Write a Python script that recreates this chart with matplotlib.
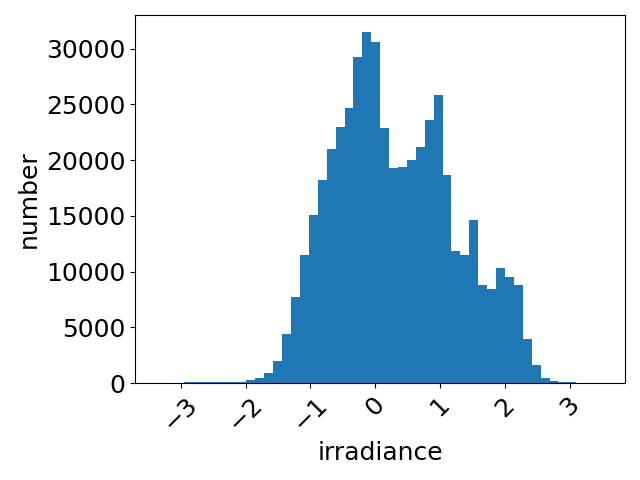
import numpy as np
import matplotlib
matplotlib.use('Agg')
import matplotlib.pyplot as plt

plt.rcParams['font.size'] = 18

# bin edges of the histogram (50 bins)
x_min = -3.361
x_max = 3.513
n_bins = 50

# counts per bin
counts = [0, 0, 0,
          90, 90, 90, 100, 100, 110, 130,
          240, 480, 930, 1980, 4400, 7730, 11500, 15100, 18250, 20950,
          23000, 24700, 29200, 31450, 30550,
          22850, 19330, 19420, 20050, 21130, 23550, 25800, 18700, 11870, 11500,
          14650, 8800, 8450, 10340, 9530, 8800, 3950, 1620, 480, 180, 100, 90,
          0, 0, 0]

x_ticks = [-3, -2, -1, 0, 1, 2, 3]
y_ticks = [0, 5000, 10000, 15000, 20000, 25000, 30000]

edges = np.linspace(x_min, x_max, n_bins + 1)
centers = (edges[:-1] + edges[1:]) / 2

fig, ax = plt.subplots(figsize=(6.4, 4.8), dpi=100)
ax.hist(centers, bins=edges, weights=counts)
ax.set_xticks(x_ticks)
ax.set_yticks(y_ticks)
ax.set_xlabel('irradiance')
ax.set_ylabel('number')
plt.xticks(rotation=45)
fig.subplots_adjust(left=0.211, right=0.977, top=0.969, bottom=0.202)
plt.savefig('out.png')
